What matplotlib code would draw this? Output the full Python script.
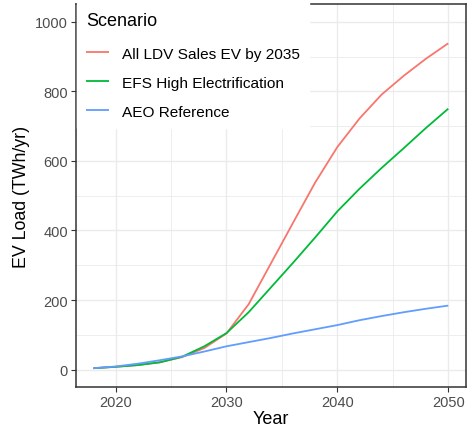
import matplotlib
matplotlib.use("Agg")
import matplotlib.pyplot as plt
from matplotlib.ticker import MultipleLocator

plt.rcParams['font.family'] = ['Liberation Sans', 'DejaVu Sans']

years = [2018, 2020, 2022, 2024, 2026, 2028, 2030, 2032, 2034, 2036, 2038, 2040,
         2042, 2044, 2046, 2048, 2050]
all_ldv = [4, 8, 13, 21, 36, 62, 104, 188, 305, 422, 538, 640, 722, 791, 845, 894, 938]
efs_high = [4, 8, 13, 21, 37, 67, 105, 165, 236, 307, 380, 455, 520, 580, 637, 695, 750]
aeo_ref = [4, 9, 17, 27, 38, 52, 67, 79, 91, 104, 116, 128, 142, 154, 165, 175, 184]

series_names = ["All LDV Sales EV by 2035", "EFS High Electrification", "AEO Reference"]
series_values = [all_ldv, efs_high, aeo_ref]
colors = ["#F8766D", "#00BA38", "#619CFF"]

x_ticks = [2020, 2030, 2040, 2050]
y_ticks = [0, 200, 400, 600, 800, 1000]

fig = plt.figure(figsize=(4.69, 4.31), dpi=100)
ax = fig.add_axes([75.7/469, 43/431, (466-75.7)/469, (388-5)/431])

for name, vals, c in zip(series_names, series_values, colors):
    ax.plot(years, vals, color=c, lw=1.3, label=name, solid_capstyle='butt')

ax.set_xlim(2016.4, 2051.6)
ax.set_ylim(-50, 1051)
ax.set_xticks(x_ticks)
ax.set_yticks(y_ticks)
ax.xaxis.set_minor_locator(MultipleLocator(5))
ax.yaxis.set_minor_locator(MultipleLocator(100))
ax.grid(which='major', color='#EBEBEB', lw=1.0)
ax.grid(which='minor', color='#EBEBEB', lw=0.6)
ax.set_axisbelow(True)
ax.tick_params(which='minor', length=0)
ax.tick_params(which='major', length=3.5, width=0.8, color='#333333',
               labelsize=10.5, labelcolor='#4D4D4D', pad=2)
for s in ax.spines.values():
    s.set_color('#333333')
    s.set_linewidth(1.1)

ax.set_xlabel("Year", fontsize=13, labelpad=1)
ax.set_ylabel("EV Load (TWh/yr)", fontsize=12.8, labelpad=4)

leg = ax.legend(title="Scenario", loc='upper left', bbox_to_anchor=(77/469, 1 - 0/431),
                bbox_transform=fig.transFigure, fontsize=11.1, title_fontsize=13,
                frameon=True, fancybox=False, framealpha=1, edgecolor='white',
                facecolor='white', handlelength=1.45, handletextpad=0.85,
                labelspacing=0.97, borderpad=0.6, borderaxespad=0)
leg._legend_box.align = "left"
leg._legend_box.sep = 15.5
leg.get_title().set_y(-4)
leg.set_zorder(5)

fig.savefig("out.png", dpi=100)
